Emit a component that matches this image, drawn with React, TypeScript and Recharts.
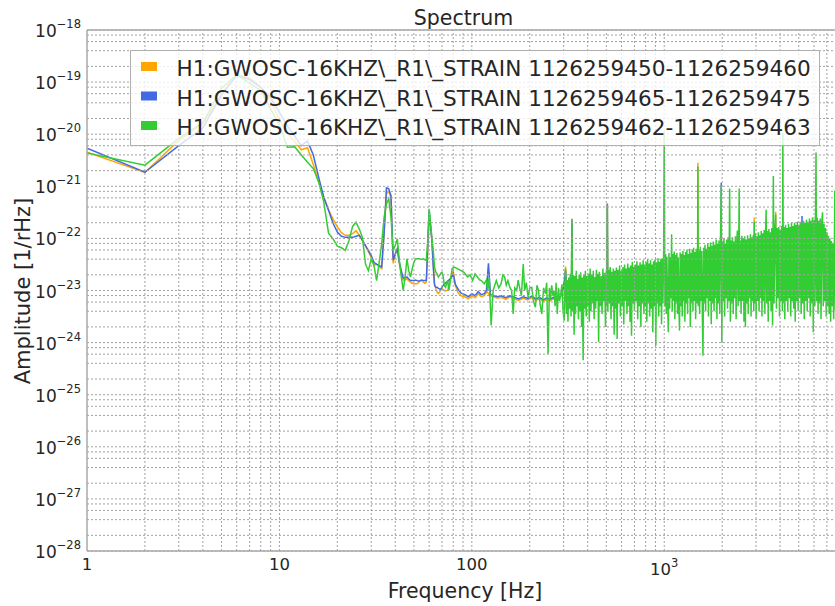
import React from 'react';
import { LineChart, Line, XAxis, YAxis, ReferenceLine } from 'recharts';

// ---- text ----
const TITLE = 'Spectrum';
const X_LABEL = 'Frequency [Hz]';
const Y_LABEL = 'Amplitude [1/rHz]';
const seriesNames = [
  'H1:GWOSC-16KHZ\\_R1\\_STRAIN 1126259450-1126259460',
  'H1:GWOSC-16KHZ\\_R1\\_STRAIN 1126259465-1126259475',
  'H1:GWOSC-16KHZ\\_R1\\_STRAIN 1126259462-1126259463',
];
const seriesColors = ['#ffa500', '#4169e1', '#32cd32'];

// ---- axes ----
const xDomainHz = [1, 8192];
const xTickHz = [1, 10, 100, 1000];
const xGridHz = [
  2, 3, 4, 5, 6, 7, 8, 9, 10, 20, 30, 40, 50, 60, 70, 80, 90, 100, 200, 300, 400, 500, 600, 700, 800, 900,
  1000, 2000, 3000, 4000, 5000, 6000, 7000, 8000,
];
const yDecades = [-28, -27, -26, -25, -24, -23, -22, -21, -20, -19, -18];
const yMinorSteps = [2, 4, 6, 8];

// ---- spectra: [frequency in Hz, log10 of amplitude in 1/rHz] ----
const orangeSpectrum: [number, number][] = [
  [1, -20.345], [2, -20.735], [3, -20.12], [4, -19.8], [5, -19.22], [6, -18.86], [7, -18.92], [8, -19.1],
  [9, -19.36], [10, -19.72], [11, -19.98], [12, -20.14], [13, -20.3], [14, -20.26], [15, -20.58], [16, -20.92],
  [17, -21.21], [18, -21.45], [19, -21.63], [20, -21.78], [21, -21.89], [22, -21.94], [23, -21.94], [24, -21.91],
  [25, -21.85], [26, -21.94], [27, -22.04], [28, -22.14], [29, -22.26], [30, -22.36], [31, -22.52], [32, -22.49],
  [33, -22.54], [34, -22.58], [35, -21.85], [36, -21.14], [37, -21.1], [38, -21.21], [39, -22.48], [40, -22.3],
  [41, -22.2], [42, -22.49], [43, -22.68], [44, -22.8], [45, -22.8], [46, -22.78], [47, -22.81], [48, -22.84],
  [49, -22.86], [50, -22.87], [51, -22.87], [52, -22.87], [53, -22.84], [54, -22.81], [55, -22.81], [56, -22.84],
  [57, -22.86], [58, -22.84], [59, -22.23], [60, -21.59], [61, -21.78], [62, -22.04], [63, -22.42], [64, -22.87],
  [65, -22.97], [66, -23.03], [67, -23.06], [68, -23.03], [69, -22.99], [70, -22.97], [71, -22.98], [72, -23.0],
  [73, -23.01], [74, -23.0], [75, -22.99], [78, -22.72], [80, -22.62], [82, -22.9], [85, -23.05], [88, -23.1],
  [92, -23.12], [96, -23.16], [100, -23.1], [104, -23.14], [108, -23.06], [112, -23.12], [116, -23.1], [120, -23.02],
  [124, -23.1], [130, -23.12], [136, -23.15], [142, -23.13], [150, -23.17], [158, -23.12], [166, -23.16], [175, -23.19],
  [185, -23.15], [195, -23.18], [205, -23.14], [215, -23.19], [225, -23.16], [235, -23.21], [245, -23.17], [255, -23.2],
  [265, -23.16], [275, -23.19], [285, -23.15], [295, -23.08], [300, -22.9], [304, -22.8], [307, -22.54], [310, -22.95],
  [330, -23.0], [331, -21.62], [332, -23.0], [400, -22.98], [504, -22.95], [506, -21.32], [508, -22.95], [700, -22.9],
  [1000, -22.85], [1494, -22.75], [1496, -20.55], [1498, -22.75], [2000, -22.65], [2933, -22.55], [2935, -21.6],
  [2937, -22.55], [3793, -22.45], [3795, -21.49], [3797, -22.45], [5000, -22.35], [6000, -22.3], [8192, -22.6],
];

const blueSpectrum: [number, number][] = [
  [1, -20.27], [2, -20.73], [3, -20.22], [4, -19.88], [5, -19.25], [6, -18.87], [7, -18.95], [8, -19.1],
  [9, -19.3], [10, -19.58], [11, -19.84], [12, -20.04], [13, -20.22], [14, -20.13], [15, -20.4], [16, -20.83],
  [17, -21.21], [18, -21.46], [19, -21.71], [20, -21.88], [21, -21.96], [22, -21.98], [23, -21.98], [24, -21.98],
  [25, -21.96], [26, -21.94], [27, -22.04], [28, -22.14], [29, -22.23], [30, -22.33], [31, -22.46], [32, -22.5],
  [33, -22.52], [34, -22.55], [35, -21.91], [36, -21.03], [37, -21.05], [38, -21.18], [39, -22.42], [40, -22.3],
  [41, -22.2], [42, -22.46], [43, -22.62], [44, -22.76], [45, -22.76], [46, -22.74], [47, -22.78], [48, -22.81],
  [49, -22.81], [50, -22.81], [51, -22.8], [52, -22.81], [53, -22.82], [54, -22.81], [55, -22.8], [56, -22.81],
  [57, -22.81], [58, -22.81], [59, -22.17], [60, -21.46], [61, -21.75], [62, -22.04], [63, -22.55], [64, -22.9],
  [65, -22.94], [66, -22.94], [67, -22.96], [68, -22.97], [69, -22.97], [70, -22.94], [71, -22.9], [72, -22.87],
  [73, -22.86], [74, -22.84], [75, -22.82], [78, -22.76], [80, -22.68], [82, -22.88], [85, -22.98], [88, -23.05],
  [92, -23.08], [96, -23.12], [100, -23.06], [104, -23.1], [108, -23.02], [112, -23.08], [116, -23.06], [119, -23.0],
  [122, -22.48], [125, -23.08], [130, -23.1], [136, -23.12], [142, -23.1], [150, -23.14], [158, -23.1], [166, -23.13],
  [175, -23.16], [185, -23.12], [195, -23.15], [205, -23.11], [215, -23.16], [225, -23.13], [235, -23.18], [245, -23.14],
  [255, -23.17], [265, -23.13], [275, -23.16], [285, -23.12], [295, -23.05], [300, -22.92], [307, -22.62], [310, -22.95],
  [330, -23.0], [331, -21.64], [332, -23.0], [400, -22.98], [504, -22.95], [506, -21.34], [508, -22.95], [700, -22.9],
  [1000, -22.85], [1976, -22.7], [1978, -20.93], [1980, -22.7], [2500, -22.55], [5198, -22.4], [5200, -21.57],
  [5202, -22.4], [6000, -22.32], [8192, -22.62],
];

const greenSpectrum: [number, number][] = [
  [1, -20.36], [2, -20.595], [3, -20.08], [4, -19.78], [5, -19.12], [6, -18.86], [7, -19.02], [8, -19.16],
  [9, -19.52], [10, -19.82], [11, -20.25], [12, -20.24], [13, -20.4], [14, -20.54], [15, -20.66], [16, -20.92],
  [17, -21.3], [18, -21.9], [19, -22.01], [20, -22.15], [21, -22.18], [22, -22.23], [23, -22.04], [24, -21.77],
  [25, -21.69], [26, -21.82], [27, -21.98], [28, -22.49], [29, -22.62], [30, -22.39], [31, -22.52], [32, -22.81],
  [33, -22.46], [34, -22.1], [35, -21.59], [36, -21.34], [37, -21.24], [38, -21.59], [39, -22.23], [40, -22.13],
  [41, -22.01], [42, -22.42], [43, -22.74], [44, -23.0], [45, -22.74], [46, -22.39], [47, -22.62], [48, -22.74],
  [49, -22.58], [50, -22.46], [51, -22.39], [52, -22.39], [53, -22.39], [54, -22.4], [55, -22.4], [56, -22.39],
  [57, -22.41], [58, -22.42], [59, -22.04], [60, -21.43], [61, -21.72], [62, -21.98], [63, -22.23], [64, -22.55],
  [65, -22.65], [66, -22.68], [67, -22.74], [68, -22.71], [69, -22.67], [70, -22.65], [71, -22.74], [72, -22.9],
  [73, -22.94], [74, -22.87], [75, -22.81], [76, -23.0], [79, -22.58], [81, -22.55], [84, -22.58], [88, -22.62],
  [91, -22.65], [95, -22.74], [98, -22.7], [101, -22.81], [104, -22.68], [107, -22.74], [110, -22.8], [112, -22.81],
  [116, -22.87], [119, -22.8], [121, -23.0], [123, -22.74], [126, -23.67], [129, -23.0], [134, -22.81], [138, -22.95],
  [142, -22.87], [145, -22.7], [148, -22.74], [151, -22.9], [154, -22.81], [158, -22.95], [161, -23.0], [164, -23.45],
  [167, -22.95], [171, -23.0], [174, -22.8], [177, -22.94], [181, -23.1], [185, -22.49], [188, -23.0], [192, -22.85],
  [196, -23.13], [200, -22.95], [205, -22.94], [209, -23.2], [214, -23.32], [218, -22.9], [222, -23.0], [226, -23.25],
  [231, -23.45], [236, -22.95], [241, -23.06], [245, -22.85], [249, -24.22], [253, -22.95], [256, -23.19], [260, -22.9],
  [264, -23.1], [267, -23.0], [271, -23.3], [274, -22.85], [278, -23.45], [282, -22.95], [286, -23.2], [290, -23.06],
  [294, -22.88], [298, -23.4], [302, -23.58], [305, -22.81], [307, -22.58], [310, -23.45], [313, -22.8], [316, -23.6],
  [319, -22.75], [322, -23.35], [325, -22.68], [328, -23.5], [331, -21.64], [334, -23.4], [337, -22.7], [340, -23.85],
  [343, -22.72], [346, -23.45], [349, -22.62], [352, -23.3], [355, -22.78], [358, -23.55], [361, -22.7], [365, -23.4],
  [368, -22.65], [372, -23.7], [375, -22.75], [379, -24.34], [382, -22.7], [386, -23.35], [389, -22.62], [393, -23.5],
  [396, -22.72], [400, -23.3], [404, -22.68], [408, -23.6], [412, -22.58], [416, -23.4], [420, -22.7], [424, -23.25],
  [428, -22.62], [432, -23.55], [436, -22.74], [440, -23.35], [444, -22.6], [448, -23.2], [452, -22.68], [456, -23.99],
  [460, -22.64], [465, -23.3], [470, -22.72], [475, -23.45], [480, -22.58], [485, -23.2], [490, -22.66], [495, -23.7],
  [500, -22.62], [504, -23.3], [506, -21.35], [509, -23.4], [514, -22.6], [519, -23.25], [524, -22.55], [529, -23.55],
  [534, -22.64], [539, -23.3], [544, -22.58], [549, -23.85], [554, -22.62], [559, -23.35], [564, -22.56], [569, -23.93],
  [574, -22.6], [580, -23.25], [586, -22.52], [592, -23.5], [598, -22.62], [604, -23.3], [610, -22.55], [616, -23.65],
  [622, -22.5], [628, -23.2], [634, -22.58], [640, -23.45], [646, -22.48], [652, -23.3], [658, -22.56], [664, -23.6],
  [670, -22.52], [676, -23.87], [682, -22.45], [688, -23.25], [694, -22.55], [700, -23.4], [707, -22.5], [714, -23.2],
  [721, -22.44], [728, -23.55], [735, -22.52], [742, -23.3], [749, -22.46], [756, -23.7], [763, -22.5], [770, -23.25],
  [777, -22.42], [784, -23.45], [791, -22.5], [798, -23.3], [805, -22.46], [812, -23.6], [819, -22.4], [826, -23.25],
  [833, -22.48], [840, -23.5], [848, -22.42], [856, -23.35], [864, -22.5], [872, -23.8], [880, -22.44], [888, -23.3],
  [896, -22.4], [904, -24.06], [912, -22.46], [920, -23.25], [928, -22.38], [936, -23.5], [944, -22.45], [952, -23.3],
  [960, -22.4], [968, -23.65], [976, -22.38], [984, -23.25], [992, -22.42], [1000, -19.95], [1008, -23.3], [1016, -22.3],
  [1024, -23.45], [1032, -22.35], [1041, -23.2], [1050, -23.8], [1058, -22.28], [1067, -23.35], [1075, -22.36], [1084, -23.15],
  [1092, -21.92], [1100, -23.4], [1109, -22.3], [1118, -23.2], [1127, -22.25], [1136, -23.55], [1145, -22.32], [1154, -23.25],
  [1163, -22.28], [1172, -23.45], [1181, -22.36], [1190, -23.2], [1200, -23.77], [1210, -22.27], [1220, -23.3], [1230, -22.3],
  [1240, -23.5], [1250, -22.24], [1260, -23.2], [1270, -22.32], [1280, -23.6], [1290, -22.26], [1300, -23.25], [1311, -22.22],
  [1322, -23.45], [1333, -22.3], [1344, -23.15], [1355, -22.2], [1366, -23.7], [1377, -22.28], [1388, -23.25], [1399, -22.22],
  [1410, -23.4], [1421, -22.18], [1432, -23.2], [1444, -22.26], [1456, -23.55], [1468, -22.2], [1480, -23.25], [1490, -22.3],
  [1496, -20.62], [1503, -23.3], [1515, -22.22], [1527, -23.45], [1540, -22.16], [1553, -23.2], [1566, -22.24], [1579, -23.6],
  [1590, -24.25], [1602, -22.18], [1615, -23.25], [1628, -22.12], [1641, -23.4], [1655, -22.2], [1669, -23.15], [1683, -22.1],
  [1697, -23.5], [1711, -22.16], [1725, -23.2], [1740, -22.08], [1755, -23.65], [1770, -22.14], [1785, -23.25], [1800, -22.06],
  [1815, -23.4], [1830, -22.12], [1846, -23.15], [1862, -22.02], [1878, -23.55], [1894, -22.1], [1910, -23.25], [1926, -22.04],
  [1942, -23.45], [1958, -22.12], [1978, -20.98], [1992, -24.0], [2009, -22.05], [2026, -23.2], [2043, -22.0], [2060, -23.5],
  [2078, -22.1], [2096, -23.15], [2114, -22.02], [2132, -23.35], [2150, -21.98], [2168, -23.2], [2187, -21.04], [2206, -23.6],
  [2225, -22.04], [2244, -23.25], [2263, -21.98], [2283, -23.45], [2303, -22.06], [2323, -23.15], [2343, -21.96], [2363, -23.55],
  [2384, -22.02], [2400, -21.85], [2420, -23.3], [2440, -21.98], [2452, -21.04], [2465, -23.2], [2486, -22.04], [2508, -23.45],
  [2530, -21.95], [2552, -23.2], [2574, -22.0], [2596, -23.6], [2618, -21.96], [2640, -23.7], [2663, -22.02], [2686, -23.25],
  [2709, -21.94], [2732, -23.45], [2755, -22.0], [2779, -23.15], [2803, -21.92], [2827, -23.5], [2851, -21.98], [2876, -23.2],
  [2901, -21.94], [2920, -23.4], [2935, -21.68], [2952, -23.25], [2978, -21.9], [3004, -23.55], [3030, -21.96], [3056, -23.2],
  [3083, -21.88], [3110, -23.4], [3137, -21.94], [3164, -23.15], [3192, -21.86], [3220, -23.5], [3248, -21.9], [3276, -23.2],
  [3305, -21.84], [3334, -23.45], [3360, -21.9], [3385, -21.45], [3410, -23.25], [3440, -21.86], [3470, -23.6], [3500, -21.82],
  [3530, -23.2], [3560, -21.88], [3590, -23.4], [3620, -21.8], [3655, -23.67], [3690, -20.8], [3720, -23.25], [3760, -21.84],
  [3795, -21.54], [3830, -23.35], [3865, -21.8], [3900, -23.15], [3935, -21.78], [3970, -23.5], [4005, -21.84], [4040, -23.2],
  [4075, -21.76], [4110, -23.4], [4134, -19.98], [4160, -23.25], [4195, -21.78], [4232, -23.55], [4270, -21.74], [4308, -23.2],
  [4346, -21.8], [4385, -23.4], [4424, -21.72], [4464, -23.15], [4504, -21.78], [4544, -23.5], [4584, -21.7], [4625, -23.2],
  [4666, -21.76], [4708, -23.35], [4750, -21.7], [4792, -23.6], [4835, -21.74], [4878, -23.2], [4922, -21.68], [4966, -23.4],
  [5010, -21.74], [5055, -23.15], [5100, -21.68], [5146, -23.45], [5200, -21.7], [5245, -23.25], [5292, -21.66], [5340, -23.55],
  [5388, -21.7], [5436, -23.2], [5485, -21.64], [5534, -23.4], [5584, -21.68], [5634, -23.15], [5684, -21.62], [5735, -23.5],
  [5786, -21.66], [5838, -23.25], [5890, -21.6], [5950, -23.8], [6005, -21.64], [6060, -23.3], [6110, -21.62], [6150, -20.35],
  [6190, -23.2], [6245, -21.6], [6300, -23.45], [6357, -21.66], [6414, -23.25], [6471, -21.62], [6529, -23.55], [6587, -21.7],
  [6646, -21.5], [6705, -23.3], [6765, -21.72], [6825, -23.2], [6886, -21.8], [6947, -23.5], [7009, -21.88], [7071, -23.3],
  [7134, -21.95], [7198, -23.45], [7262, -22.0], [7327, -23.6], [7392, -22.05], [7458, -23.3], [7525, -22.1], [7592, -23.55],
  [7660, -22.12], [7700, -21.08], [7760, -23.4], [7830, -22.15], [7900, -23.5], [7970, -22.2], [8040, -23.35], [8110, -22.25],
  [8192, -23.45],
];

const toPoints = (s: [number, number][]) => s.map(([hz, lg]) => ({ hz, amp: Math.pow(10, lg) }));
const seriesData = [toPoints(orangeSpectrum), toPoints(blueSpectrum), toPoints(greenSpectrum)];

const yTickAmp = yDecades.map((d) => Math.pow(10, d));
const yGridAmp: number[] = [];
yDecades.forEach((d, i) => {
  yGridAmp.push(Math.pow(10, d));
  if (i < yDecades.length - 1) yMinorSteps.forEach((m) => yGridAmp.push(m * Math.pow(10, d)));
});

const FONT = 'DejaVu Sans';
const TEXT = '#262626';
const GRID = '#a2a2a2';
const FRAME = '#a8a8a8';

const XTick = (props: any) => {
  const { x, y, payload } = props;
  const v = payload.value as number;
  const exp = Math.round(Math.log10(v));
  if (exp >= 3) {
    return (
      <text x={x} y={y + 24} textAnchor="middle" fontSize={16.5} fill={TEXT} fontFamily={FONT}>
        10
        <tspan dy={-8} fontSize={11.5}>{exp}</tspan>
      </text>
    );
  }
  return (
    <text x={x} y={y + 18.5} textAnchor="middle" fontSize={16.5} fill={TEXT} fontFamily={FONT}>
      {String(v)}
    </text>
  );
};

const YTick = (props: any) => {
  const { x, y, payload } = props;
  const exp = Math.round(Math.log10(payload.value));
  return (
    <text x={x - 6} y={y + 7} textAnchor="end" fontSize={17} fill={TEXT} fontFamily={FONT}>
      10
      <tspan dy={-9} fontSize={11.5}>{'\u2212' + Math.abs(exp)}</tspan>
    </text>
  );
};

export default function App() {
  return (
    <div
      style={{
        position: 'absolute',
        left: 0,
        top: 0,
        width: 835,
        height: 606,
        overflow: 'hidden',
        background: '#ffffff',
        fontFamily: FONT,
      }}
    >
      <LineChart width={850} height={606} margin={{ top: 30, right: 10, bottom: 0, left: 0 }}>
        <XAxis
          type="number"
          dataKey="hz"
          scale="log"
          domain={xDomainHz}
          ticks={xTickHz}
          interval={0}
          allowDataOverflow
          height={55}
          tick={<XTick />}
          tickLine={false}
          tickSize={0}
          tickMargin={0}
          axisLine={{ stroke: FRAME, strokeWidth: 1.5 }}
        />
        <YAxis
          type="number"
          dataKey="amp"
          scale="log"
          domain={[yTickAmp[0], yTickAmp[yTickAmp.length - 1]]}
          ticks={yTickAmp}
          interval={0}
          allowDataOverflow
          width={87}
          tick={<YTick />}
          tickLine={false}
          tickSize={0}
          tickMargin={0}
          axisLine={{ stroke: FRAME, strokeWidth: 1.5 }}
        />
        {seriesData.map((pts, i) => (
          <Line
            key={seriesNames[i]}
            data={pts}
            dataKey="amp"
            type="linear"
            stroke={seriesColors[i]}
            strokeWidth={1.5}
            dot={false}
            activeDot={false}
            isAnimationActive={false}
          />
        ))}
        {xGridHz.map((hz) => (
          <ReferenceLine key={'gx' + hz} x={hz} stroke={GRID} strokeWidth={1} strokeDasharray="2 2" />
        ))}
        {yGridAmp.map((v) => (
          <ReferenceLine key={'gy' + v} y={v} stroke={GRID} strokeWidth={1} strokeDasharray="2 2" />
        ))}
        <ReferenceLine y={yTickAmp[yTickAmp.length - 1]} stroke={FRAME} strokeWidth={1.5} />
      </LineChart>

      <svg
        width={835}
        height={606}
        style={{ position: 'absolute', left: 0, top: 0, pointerEvents: 'none' }}
      >
        <text x={463.5} y={25} textAnchor="middle" fontSize={20.5} fill={TEXT} fontFamily={FONT}>
          {TITLE}
        </text>
        <text x={465} y={598} textAnchor="middle" fontSize={20.5} fill={TEXT} fontFamily={FONT}>
          {X_LABEL}
        </text>
        <text
          x={0}
          y={0}
          transform="translate(30 291) rotate(-90)"
          textAnchor="middle"
          fontSize={21}
          fill={TEXT}
          fontFamily={FONT}
        >
          {Y_LABEL}
        </text>
        <rect x={130.5} y={50.5} width={689} height={95} fill="rgba(255,255,255,0.8)" stroke="#b0b0b0" strokeWidth={1} />
        {seriesNames.map((name, i) => (
          <g key={name}>
            <rect x={141} y={62 + i * 29.5} width={16} height={9} fill={seriesColors[i]} />
            <text x={176.5} y={76 + i * 29.5} fontSize={21.6} fill={TEXT} fontFamily={FONT}>
              {name}
            </text>
          </g>
        ))}
      </svg>
    </div>
  );
}
